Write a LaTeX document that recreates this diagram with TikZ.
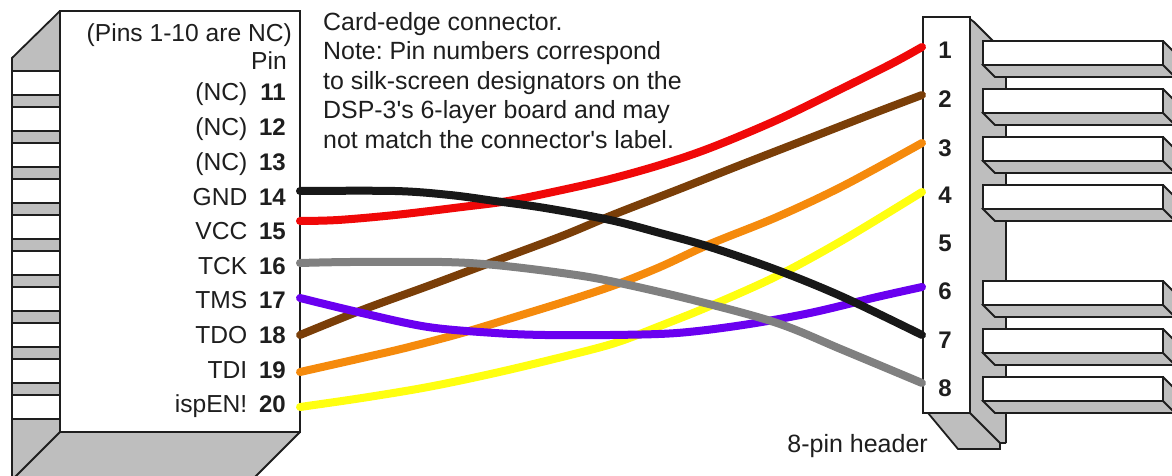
\documentclass[tikz,border=0pt]{standalone}
\usepackage{fontspec}
\setmainfont{Liberation Sans}[Ligatures=TeXOff]
\definecolor{face}{HTML}{BEBEBE}
\definecolor{ink}{HTML}{1E1E1E}
\definecolor{wred}{HTML}{F00808}
\definecolor{wbrown}{HTML}{7A3E08}
\definecolor{worange}{HTML}{F58A0C}
\definecolor{wyellow}{HTML}{FFFF10}
\definecolor{wpurple}{HTML}{6A00F0}
\definecolor{wgray}{HTML}{808080}
\definecolor{wblack}{HTML}{181818}
\tikzset{
  x=1pt,y=-1pt,
  outline/.style={draw=ink,line width=1.8pt,line join=miter},
  facefill/.style={fill=face,draw=none},
  wire/.style={line width=8pt,line cap=round,line join=round},
  txt/.style={inner sep=0pt,text=ink,font=\fontsize{24.6}{29.5}\selectfont},
  lbl/.style={txt,anchor=base east},
  num/.style={txt,anchor=base east,font=\fontsize{24}{29}\selectfont\bfseries},
  hnum/.style={txt,anchor=base,font=\fontsize{24}{29}\selectfont\bfseries},
}
\begin{document}
\frenchspacing
\begin{tikzpicture}
\useasboundingbox (0,0) rectangle (1172,476);
\fill[white] (0,0) rectangle (1172,476);
\begin{scope}
\clip (0,0) rectangle (1172,476);
% card-edge connector
\path[facefill] (12,58) -- (60,11) -- (300,11) -- (300,432) -- (252,480) -- (12,480) -- cycle;
\draw[outline] (12,480) -- (12,58) -- (60,11);
\foreach \t in {71,107,143,179,215,251,287,323,359,395}{
  \draw[outline,fill=white] (12,\t) rectangle (60,\t+24);
}
\draw[outline] (60,432) -- (12,480);
\draw[outline] (300,432) -- (252,480);
\draw[outline,fill=white] (60,11) rectangle (300,432);
% header body
\path[facefill] (970,21) -- (974,21) -- (994,41) -- (1006,41) -- (1006,443) -- (1000,443) -- (1000,449) -- (958,449) -- (928,413) -- (970,413) -- cycle;
\draw[outline] (970,19) -- (974,22) -- (993,41);
\foreach \a/\b in {77/89,125/137,173/185,221/281,317/329,365/377,413/443}{
  \draw[outline] (1006,\a) -- (1006,\b);
}
\draw[outline] (1006,443) -- (1000,443) -- (1000,449) -- (958,449) -- (928,413);
\draw[outline] (970,413) -- (1000,443);
\draw[outline,fill=white] (923,17) rectangle (970,413);
% header pins
\foreach \t in {41,89,137,185,281,329,377}{
  \path[outline,fill=face] (1163,\t) -- (1176,\t+13) -- (1176,\t+36) -- (995,\t+36) -- (983,\t+24) -- cycle;
  \draw[outline] (1163,\t+24) -- (1176,\t+37);
  \draw[outline,fill=white] (983,\t) rectangle (1163,\t+24);
}
\end{scope}
% labels
\node[lbl] (title) at (292,41.5) {(Pins 1-10 are NC)};
\node[lbl] (pinhead) at (287,70) {Pin};
\foreach \nm/\n/\y in {(NC)/11/101,(NC)/12/135.6,(NC)/13/170,GND/14/205,VCC/15/239.4,TCK/16/274,TMS/17/308.6,TDO/18/343,TDI/19/378,ispEN!/20/412}{
  \node[lbl] (name\n) at (247.5,\y) {\nm};
  \node[num] (num\n) at (286,\y) {\n};
}
\node[txt,anchor=north west,align=left,font=\fontsize{24.9}{29.5}\selectfont] (note) at (323,12) {Card-edge connector.\\Note: Pin numbers correspond\\to silk-screen designators on the\\DSP-3's 6-layer board and may\\not match the connector's label.};
\node[lbl,font=\fontsize{25}{29.5}\selectfont] (hdrname) at (928,452) {8-pin header};
\foreach \n/\y in {1/59,2/108,3/157,4/203,5/251,6/299,7/348,8/396}{
  \node[hnum] (hn\n) at (945,\y) {\n};
}
% wire ends
\coordinate (p14) at (300,191);
\coordinate (p15) at (300,221);
\coordinate (p16) at (300,263);
\coordinate (p17) at (300,298);
\coordinate (p18) at (300,335);
\coordinate (p19) at (300,372);
\coordinate (p20) at (300,407);
\coordinate (h1) at (922,47);
\coordinate (h2) at (922,95);
\coordinate (h3) at (922,143);
\coordinate (h4) at (922,192);
\coordinate (h6) at (922,287);
\coordinate (h7) at (922,335);
\coordinate (h8) at (922,383);
% wires
\draw[wire,wyellow] plot[smooth,tension=0.55] coordinates {(p20) (362,398) (428,387) (495,373) (562,357) (615,343) (660,326) (710,306) (777,276) (843,240) (h4)};
\draw[wire,worange] plot[smooth,tension=0.55] coordinates {(p19) (362,358) (405,348) (462,333) (528,313) (570,300) (615,285) (660,267) (710,244) (777,217) (843,186) (h3)};
\draw[wire,wbrown] plot[smooth,tension=0.55] coordinates {(p18) (362,310) (428,286) (495,261) (562,236) (615,214) (677,190) (743,164) (810,138) (877,112) (h2)};
\draw[wire,wred] plot[smooth,tension=0.55] coordinates {(p15) (338,220) (395,215) (462,207) (508,201) (562,190) (610,179) (660,165) (710,148) (777,120) (843,88) (893,63) (h1)};
\draw[wire,wpurple] plot[smooth,tension=0.55] coordinates {(p17) (362,313) (428,327) (495,333) (545,335) (610,335) (677,333) (743,325) (810,313) (877,297) (h6)};
\draw[wire,wgray] plot[smooth,tension=0.55] coordinates {(p16) (350,262) (442,262) (495,265) (562,273) (610,281) (693,300) (777,323) (843,350) (h8)};
\draw[wire,wblack] plot[smooth,tension=0.55] coordinates {(p14) (395,191) (450,195) (495,201) (545,208) (610,220) (660,233) (710,247) (777,270) (843,297) (h7)};
\end{tikzpicture}
\end{document}
